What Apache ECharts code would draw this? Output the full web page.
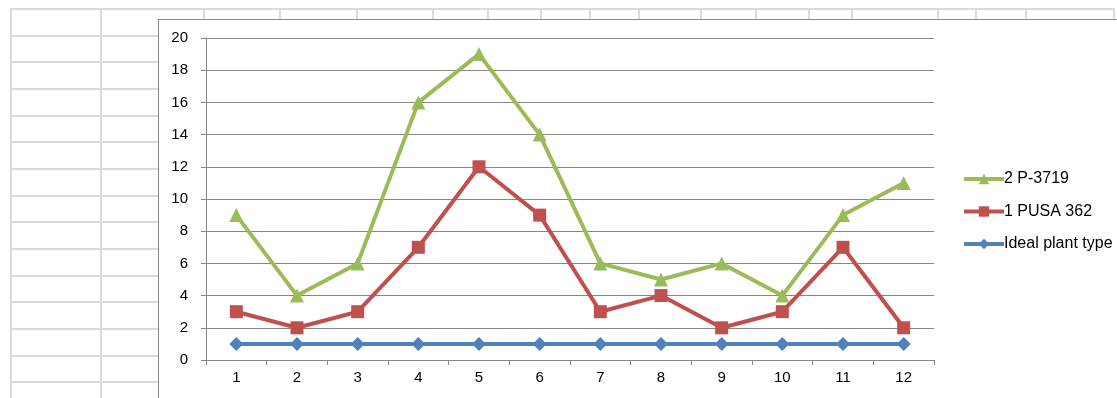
<!DOCTYPE html>
<html style="height: 100%">
<head>
<meta charset="utf-8">
<script src="https://cdn.jsdelivr.net/npm/echarts@6/dist/echarts.min.js"></script>
<style>
  body { margin: 0; background: #fff; width: 1117px; height: 398px; overflow: hidden; position: relative; }
  #sheet { position: absolute; left: 0; top: 0; width: 1117px; height: 398px; }
  .hl, .vl { position: absolute; background: #dadada; }
  #frame { position: absolute; left: 158px; top: 19px; width: 980px; height: 400px;
           background: #fff; border-left: 1.5px solid #8a8a8a; border-top: 1.5px solid #8a8a8a; }
  #container { position: absolute; left: 158px; top: 19px; width: 959px; height: 379px; }
</style>
</head>
<body>
<div id="sheet"></div>
<div id="frame"></div>
<div id="container"></div>
<script type="text/javascript">

var categories = ['1', '2', '3', '4', '5', '6', '7', '8', '9', '10', '11', '12'];
var p3719 = [9, 4, 6, 16, 19, 14, 6, 5, 6, 4, 9, 11];
var pusa362 = [3, 2, 3, 7, 12, 9, 3, 4, 2, 3, 7, 2];
var idealPlant = [1, 1, 1, 1, 1, 1, 1, 1, 1, 1, 1, 1];

// spreadsheet cells behind the chart
var sheet = document.getElementById('sheet');
var rowLines = [8, 35, 61, 88, 115, 141, 168, 195, 221, 248, 275, 301, 328, 355, 381];
var leftCols = [10, 100];
var topCols = [203, 279, 356, 432, 487, 540, 589, 638, 700, 755, 808, 851, 937, 975, 1025, 1113];
rowLines.forEach(function (y) {
    var d = document.createElement('div');
    d.className = 'hl';
    d.style.left = '10px'; d.style.top = y + 'px';
    d.style.width = (y < 19 ? 1104 : 150) + 'px'; d.style.height = '2px';
    sheet.appendChild(d);
});
leftCols.forEach(function (x) {
    var d = document.createElement('div');
    d.className = 'vl';
    d.style.left = x + 'px'; d.style.top = '8px';
    d.style.width = '2px'; d.style.height = '390px';
    sheet.appendChild(d);
});
topCols.forEach(function (x) {
    var d = document.createElement('div');
    d.className = 'vl';
    d.style.left = x + 'px'; d.style.top = '8px';
    d.style.width = '2px'; d.style.height = '12px';
    sheet.appendChild(d);
});

var myChart = echarts.init(document.getElementById('container'));
var font = 'Liberation Sans, Arial, sans-serif';
var axisGray = '#868686';

var option = {
    animation: false,
    grid: { left: 48, right: 183, top: 19, bottom: 38 },
    legend: {
        orient: 'vertical',
        left: 804,
        top: 152,
        padding: 0,
        itemGap: 16.5,
        itemWidth: 40,
        itemHeight: 13,
        lineStyle: { width: 4 },
        data: ['2 P-3719', '1 PUSA 362', 'Ideal plant type'],
        textStyle: { fontFamily: font, fontSize: 16, color: '#000', padding: [0, 0, 0, -5] }
    },
    xAxis: {
        type: 'category',
        data: categories,
        boundaryGap: true,
        axisLine: { lineStyle: { color: axisGray, width: 1 } },
        axisTick: { show: true, length: 5, alignWithLabel: false, lineStyle: { color: axisGray } },
        axisLabel: { fontFamily: font, fontSize: 15, color: '#000', margin: 10 },
        splitLine: { show: false }
    },
    yAxis: {
        type: 'value',
        min: 0,
        max: 20,
        interval: 2,
        axisLine: { show: true, lineStyle: { color: axisGray, width: 1 } },
        axisTick: { show: true, length: 5, lineStyle: { color: axisGray } },
        axisLabel: { fontFamily: font, fontSize: 15, color: '#000', margin: 18 },
        splitLine: { lineStyle: { color: axisGray, width: 1 } }
    },
    series: [
        {
            name: 'Ideal plant type',
            type: 'line',
            data: idealPlant,
            symbol: 'diamond',
            symbolSize: 14,
            color: '#4F81BD',
            lineStyle: { width: 4 },
            itemStyle: { color: '#4F81BD' }
        },
        {
            name: '1 PUSA 362',
            type: 'line',
            data: pusa362,
            symbol: 'rect',
            symbolSize: 13,
            color: '#C0504D',
            lineStyle: { width: 4 },
            itemStyle: { color: '#C0504D' }
        },
        {
            name: '2 P-3719',
            type: 'line',
            data: p3719,
            symbol: 'triangle',
            symbolSize: 14,
            color: '#9BBB59',
            lineStyle: { width: 4 },
            itemStyle: { color: '#9BBB59' }
        }
    ]
};

myChart.setOption(option);
</script>
</body>
</html>
